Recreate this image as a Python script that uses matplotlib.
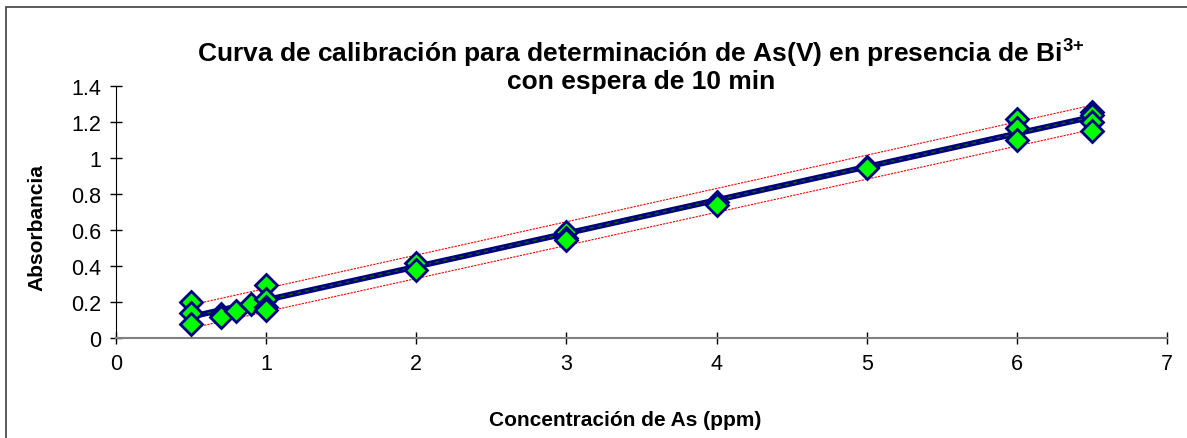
import matplotlib.pyplot as plt
from matplotlib.patches import Rectangle

plt.rcParams['font.family'] = ['Liberation Sans', 'DejaVu Sans']
plt.rcParams['mathtext.fontset'] = 'custom'
plt.rcParams['mathtext.rm'] = 'Liberation Sans:bold'
plt.rcParams['mathtext.bf'] = 'Liberation Sans:bold'

# concentraciones (ppm) y absorbancias medidas
conc = [0.5, 0.5, 0.5, 0.7, 0.7, 0.8, 0.9, 1, 1, 1, 1, 2, 2,
        3, 3, 3, 4, 4, 5, 5, 6, 6, 6, 6.5, 6.5, 6.5, 6.5]
absorb = [0.20, 0.14, 0.08, 0.135, 0.12, 0.15, 0.19, 0.295, 0.22, 0.175, 0.16, 0.42, 0.38,
          0.59, 0.56, 0.545, 0.76, 0.74, 0.95, 0.945, 1.22, 1.17, 1.10, 1.26, 1.24, 1.20, 1.15]

# recta de calibracion
fit_x = [0.5, 1, 2, 3, 4, 5, 6, 6.5]
fit_y = [0.12, 0.213, 0.398, 0.583, 0.768, 0.953, 1.138, 1.23]

# limites de confianza
band_x = [0.5, 6.5]
band_upper = [0.185, 1.295]
band_lower = [0.056, 1.16]

fig = plt.figure(figsize=(11.87, 4.39), dpi=100)
ax = fig.add_axes([0.0977, 0.2271, 0.8855, 0.574])

ax.plot(band_x, band_upper, color='#FF0000', lw=0.8, ls=(0, (2, 1)), zorder=2)
ax.plot(band_x, band_lower, color='#FF0000', lw=0.8, ls=(0, (2, 1)), zorder=2)
ax.plot(fit_x, fit_y, color='#000080', lw=4.2, solid_capstyle='butt', zorder=3)
ax.plot(fit_x, fit_y, color='#006400', lw=1.0, ls=(0, (3, 3)), zorder=4)
ax.plot(conc, absorb, ls='none', marker='D', ms=11, mfc='#00FF00', mec='#000080', mew=2, zorder=5)

ax.set_xlim(0, 7)
ax.set_ylim(0, 1.4)
ax.set_xticks(range(0, 8))
ax.set_yticks([0, 0.2, 0.4, 0.6, 0.8, 1, 1.2, 1.4])
ax.set_yticklabels(['0', '0.2', '0.4', '0.6', '0.8', '1', '1.2', '1.4'])
ax.tick_params(direction='inout', length=9, width=1, labelsize=15.5, pad=6, colors='black')

for s in ['top', 'right']:
    ax.spines[s].set_visible(False)
ax.spines['left'].set_color('black')
ax.spines['bottom'].set_color('#808080')
ax.spines['bottom'].set_linewidth(1.5)

ax.set_xlabel('Concentración de As (ppm)', fontsize=15, fontweight='bold')
ax.set_ylabel('Absorbancia', fontsize=15, fontweight='bold')
ax.xaxis.set_label_coords(0.4843, -0.284)
ax.yaxis.set_label_coords(-0.0657, 0.442)

fig.text(0.540, 0.851, 'Curva de calibración para determinación de As(V) en presencia de Bi$^{3{+}}$\ncon espera de 10 min',
         ha='center', va='center', fontsize=19, fontweight='bold', linespacing=1.05)

# marco del grafico
fig.patches.append(Rectangle((6 / 1187, -0.05), 1.2, (439 - 8) / 439 + 0.05, transform=fig.transFigure,
                             fill=False, edgecolor='#404040', lw=1.2))

fig.savefig('out.png', dpi=100)
